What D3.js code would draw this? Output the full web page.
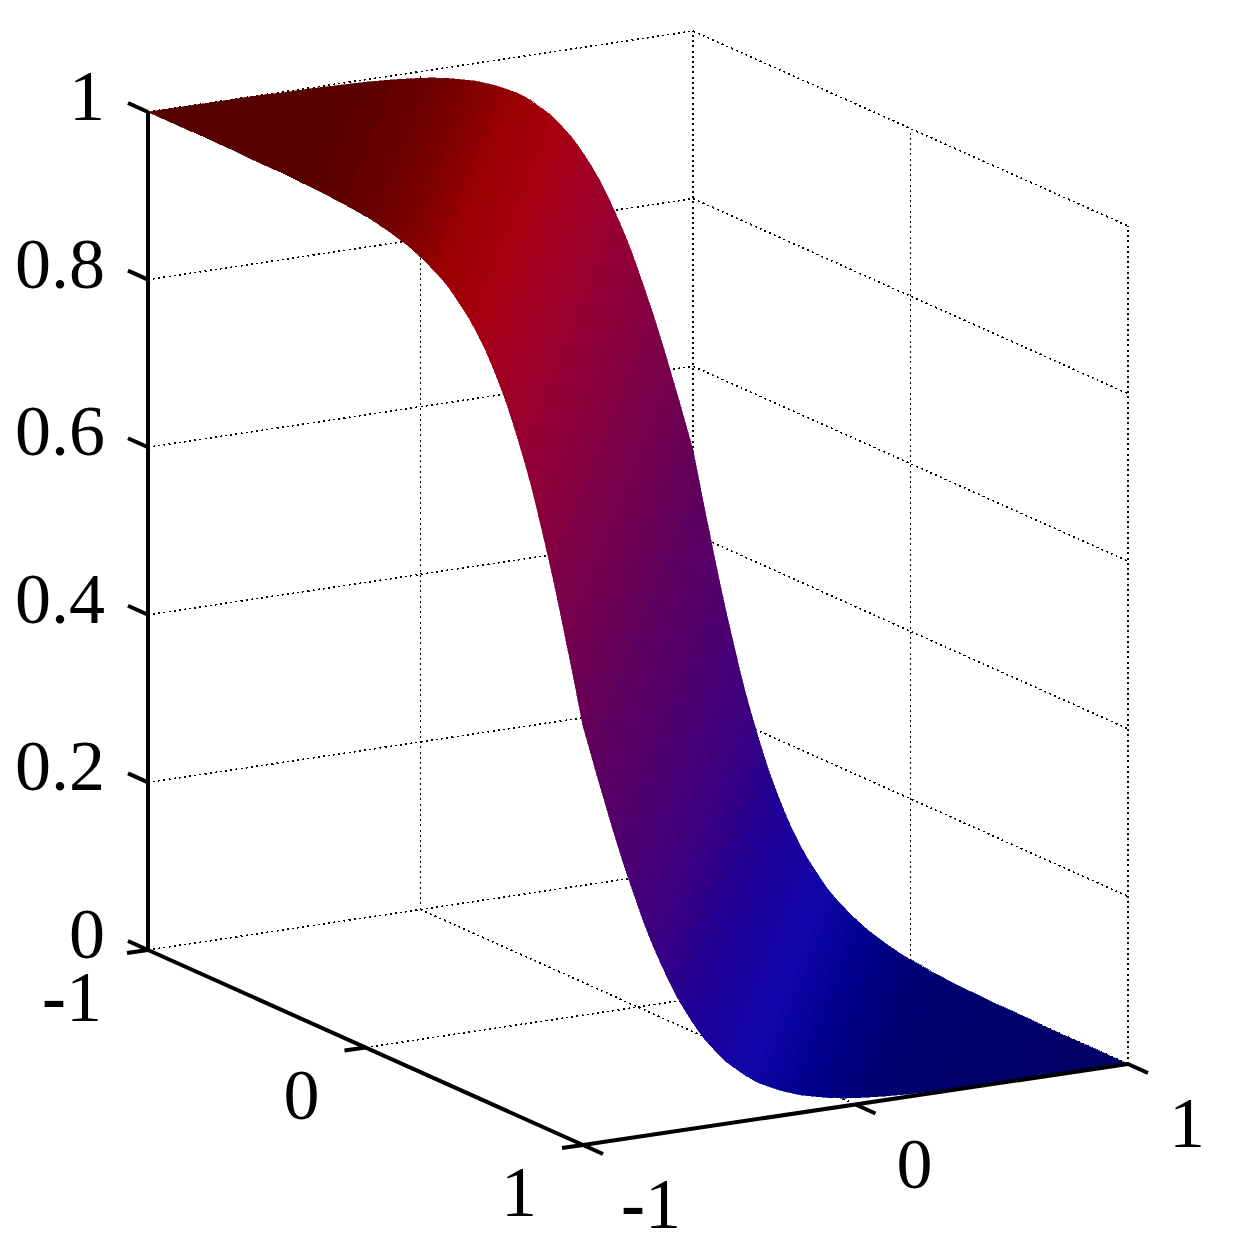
<!DOCTYPE html>
<html>
<head>
<meta charset="utf-8">
<style>
  html, body { margin: 0; background: #fff; }
  svg { display: block; }
  text { font-family: "Liberation Serif", serif; font-size: 72px; fill: #000; }
</style>
<script src="https://cdn.jsdelivr.net/npm/d3@7"></script>
</head>
<body>
<svg id="chart" width="1233" height="1258"></svg>
<script>
// tick values
const zTicks = [0, 0.2, 0.4, 0.6, 0.8, 1];
const baseTicks = [-1, 0, 1];

// height of the sheet along u+v (it only changes across that diagonal),
// estimated from the two silhouette edges
const surfaceS = [
  -2, -1.9, -1.8, -1.7, -1.6, -1.5, -1.4, -1.3, -1.2, -1.1,
  -1, -0.975, -0.95, -0.925, -0.9, -0.875, -0.85, -0.825, -0.8, -0.775,
  -0.75, -0.725, -0.7, -0.675, -0.65, -0.625, -0.6, -0.575, -0.55, -0.525,
  -0.5, -0.475, -0.45, -0.425, -0.4, -0.375, -0.35, -0.325, -0.3, -0.275,
  -0.25, -0.225, -0.2, -0.175, -0.15, -0.125, -0.1, -0.075, -0.05, -0.025,
  0, 0.025, 0.05, 0.075, 0.1, 0.125, 0.15, 0.175, 0.2, 0.225,
  0.25, 0.275, 0.3, 0.325, 0.35, 0.375, 0.4, 0.425, 0.45, 0.475,
  0.5, 0.525, 0.55, 0.575, 0.6, 0.625, 0.65, 0.675, 0.7, 0.725,
  0.75, 0.775, 0.8, 0.825, 0.85, 0.875, 0.9, 0.925, 0.95, 0.975,
  1, 1.1, 1.2, 1.3, 1.4, 1.5, 1.6, 1.7, 1.8, 1.9, 2
];
const surfaceZ = [
  1, 1, 1, 1, 1, 0.999, 0.999, 0.998, 0.997, 0.995,
  0.992, 0.991, 0.99, 0.988, 0.987, 0.985, 0.983, 0.981, 0.979, 0.976,
  0.973, 0.97, 0.966, 0.962, 0.958, 0.953, 0.947, 0.94, 0.933, 0.926,
  0.917, 0.907, 0.897, 0.885, 0.872, 0.858, 0.843, 0.826, 0.808, 0.789,
  0.769, 0.747, 0.723, 0.698, 0.673, 0.646, 0.618, 0.589, 0.56, 0.53,
  0.5, 0.47, 0.44, 0.411, 0.382, 0.354, 0.327, 0.302, 0.277, 0.253,
  0.231, 0.211, 0.192, 0.174, 0.157, 0.142, 0.128, 0.115, 0.103, 0.093,
  0.083, 0.074, 0.067, 0.06, 0.053, 0.047, 0.042, 0.038, 0.034, 0.03,
  0.027, 0.024, 0.021, 0.019, 0.017, 0.015, 0.013, 0.012, 0.01, 0.009,
  0.008, 0.005, 0.003, 0.002, 0.001, 0.001, 0, 0, 0, 0, 0
];

// shaded colour of the sheet along the same diagonal
const shadeS = [-2, -1.3, -1, -0.8, -0.65, -0.5, -0.35, -0.2, 0, 0.2, 0.4, 0.6, 0.8, 1, 1.3, 2];
const shadeColor = ['#560000', '#580000', '#660000', '#800000', '#9a0002', '#a6000e', '#a00028', '#8c003c',
  '#640058', '#460078', '#1e0096', '#1206aa', '#00008e', '#000076', '#00006c', '#000064'];

const svg = d3.select('#chart');

// oblique view of the box, one scale per direction
const uX = d3.scaleLinear().domain([-1, 1]).range([0, 435]);
const uY = d3.scaleLinear().domain([-1, 1]).range([0, 195]);
const vX = d3.scaleLinear().domain([-1, 1]).range([0, 545]);
const vY = d3.scaleLinear().domain([-1, 1]).range([0, -81]);
const zY = d3.scaleLinear().domain([0, 1]).range([0, -838]);
const color = d3.scaleLinear().domain(shadeS).range(shadeColor).interpolate(d3.interpolateRgb);

function project(u, v, z) {
  return [148 + uX(u) + vX(v), 950 + uY(u) + vY(v) + zY(z)];
}

const line = d3.line();

// dotted grid on the back walls and the floor
const gridLines = [];
zTicks.forEach((z) => {
  gridLines.push([project(-1, -1, z), project(-1, 1, z), project(1, 1, z)]);
});
gridLines.push([project(-1, 0, 0), project(-1, 0, 1)]);
gridLines.push([project(-1, 1, 0), project(-1, 1, 1)]);
gridLines.push([project(0, 1, 0), project(0, 1, 1)]);
gridLines.push([project(1, 1, 0), project(1, 1, 1)]);
gridLines.push([project(-1, 0, 0), project(1, 0, 0)]);
gridLines.push([project(0, -1, 0), project(0, 1, 0)]);

svg.append('g')
  .selectAll('path')
  .data(gridLines)
  .join('path')
  .attr('d', line)
  .attr('fill', 'none')
  .attr('stroke', '#000')
  .attr('stroke-width', 1.6)
  .attr('stroke-dasharray', '2 3.2')
  .attr('shape-rendering', 'crispEdges');

// the two ends of a constant u+v line on the unit square
function edgeA(s) {
  return s <= 0 ? [s + 1, -1] : [1, s - 1];
}
function edgeB(s) {
  return s <= 0 ? [-1, s + 1] : [s - 1, 1];
}

const strips = d3.pairs(surfaceS.map((s, i) => ({ s, z: surfaceZ[i] })));

svg.append('g')
  .selectAll('path')
  .data(strips)
  .join('path')
  .attr('d', ([a, b]) => line([
    project(...edgeA(a.s), a.z),
    project(...edgeA(b.s), b.z),
    project(...edgeB(b.s), b.z),
    project(...edgeB(a.s), a.z)
  ]) + 'Z')
  .attr('fill', ([a, b]) => color((a.s + b.s) / 2))
  .attr('stroke', ([a, b]) => color((a.s + b.s) / 2))
  .attr('stroke-width', 0.6)
  .attr('shape-rendering', 'crispEdges');

// solid axes
const axisLines = [
  { pts: [project(-1, -1, 1), project(-1, -1, 0)], w: 4 },
  { pts: [project(-1, -1, 0), project(1, -1, 0)], w: 4 },
  { pts: [project(1, -1, 0), project(1, 1, 0)], w: 4 }
];
zTicks.forEach((z) => {
  const p = project(-1, -1, z);
  axisLines.push({ pts: [p, [p[0] - 20, p[1] - 9]], w: 4 });
});
baseTicks.forEach((t) => {
  const p = project(t, -1, 0);
  axisLines.push({ pts: [p, [p[0] - 21, p[1] + 3]], w: 4 });
  const q = project(1, t, 0);
  axisLines.push({ pts: [q, [q[0] + 20, q[1] + 9]], w: 4 });
});

svg.append('g')
  .selectAll('path')
  .data(axisLines)
  .join('path')
  .attr('d', (d) => line(d.pts))
  .attr('fill', 'none')
  .attr('stroke', '#000')
  .attr('stroke-width', (d) => d.w);

// tick labels; the minus sign is heavier than the digits in the original
function writeTick(sel) {
  sel.append('tspan').attr('font-weight', 'bold').text((t) => (t < 0 ? '-' : ''));
  sel.append('tspan').text((t) => Math.abs(t));
}

svg.append('g')
  .selectAll('text')
  .data(zTicks)
  .join('text')
  .attr('x', 105)
  .attr('y', (z) => project(-1, -1, z)[1] + 8)
  .attr('text-anchor', 'end')
  .text((z) => z);

svg.append('g')
  .selectAll('text')
  .data(baseTicks)
  .join('text')
  .attr('x', (t) => project(t, -1, 0)[0] - 64 - (t < 0 ? 12 : 0))
  .attr('y', (t) => project(t, -1, 0)[1] + 71)
  .attr('text-anchor', 'middle')
  .call(writeTick);

svg.append('g')
  .selectAll('text')
  .data(baseTicks)
  .join('text')
  .attr('x', (t) => project(1, t, 0)[0] + 59 + (t < 0 ? 9 : 0))
  .attr('y', (t) => project(1, t, 0)[1] + 83)
  .attr('text-anchor', 'middle')
  .call(writeTick);
</script>
</body>
</html>
